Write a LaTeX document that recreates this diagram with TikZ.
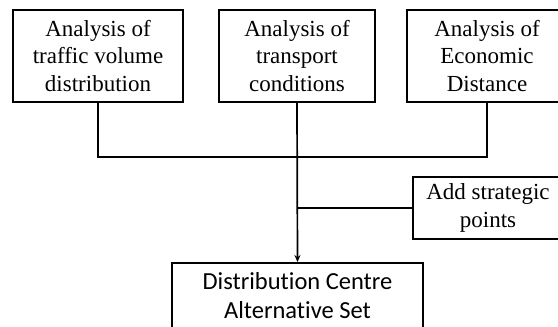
\documentclass[tikz,border=0pt]{standalone}
\usepackage{fontspec}
\setmainfont{Liberation Serif}
\newfontfamily\calfont[Ligatures=NoCommon]{Carlito}
\usetikzlibrary{arrows.meta}
\begin{document}
\begin{tikzpicture}[x=1pt,y=-1pt,
  box/.style={draw,line width=1.9pt,align=center,inner sep=0pt,font=\fontsize{23}{27.5}\selectfont},
  link/.style={line width=1.7pt}]
\clip (0,0) rectangle (558,327);
\node[box,minimum width=170pt,minimum height=92pt] (traffic) at (98,56) {Analysis of\\traffic volume\\distribution};
\node[box,minimum width=156pt,minimum height=92pt] (transport) at (297,56) {Analysis of\\transport\\conditions};
\node[box,minimum width=160pt,minimum height=92pt] (econ) at (487,56) {Analysis of\\Economic\\Distance};
\node[box,minimum width=150pt,minimum height=62pt] (add) at (488,208) {Add strategic\\points};
\node[box,minimum width=251pt,minimum height=66pt,font=\calfont\fontsize{24.5}{29}\selectfont] (dc) at (297.5,296) {Distribution Centre\\Alternative Set};
\coordinate (bus) at (297,157);
\coordinate (join) at (297,208);
\draw[link] (traffic.south) -- (traffic.south |- bus) -- (econ.south |- bus) -- (econ.south);
\draw[link,-{Stealth[length=7pt,width=6pt]}] (transport.south) -- (dc.north);
\draw[link] (add.west) -- (join);
\end{tikzpicture}
\end{document}
